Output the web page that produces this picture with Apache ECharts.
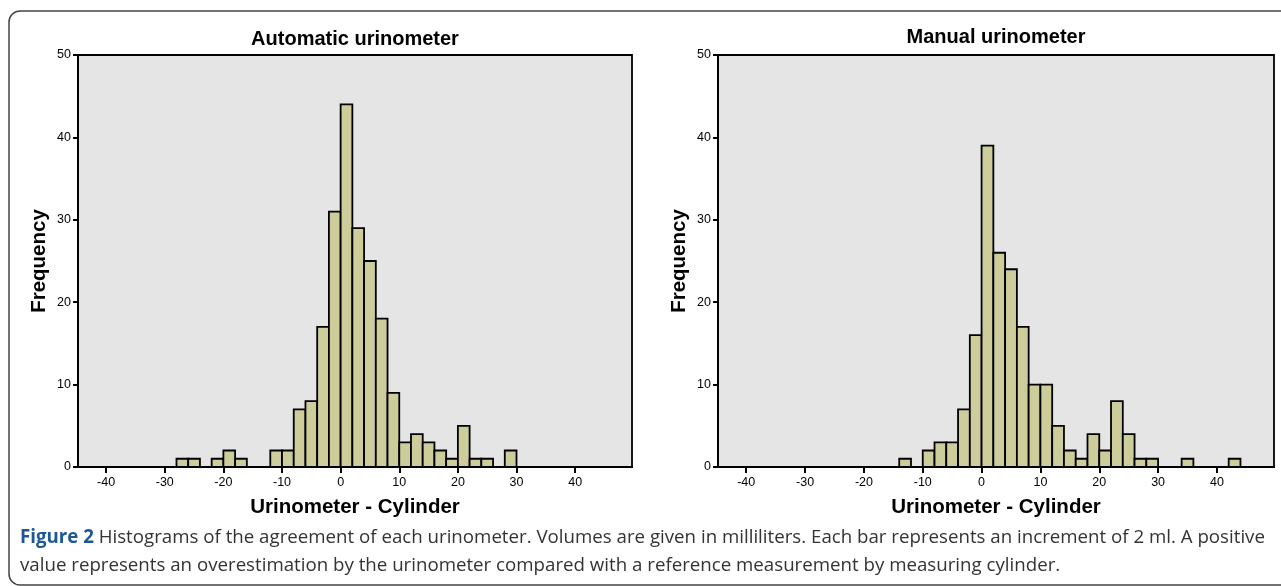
<!DOCTYPE html>
<html><head><meta charset="utf-8">
<script src="https://cdn.jsdelivr.net/npm/echarts@6/dist/echarts.min.js"></script>
<style>html,body{margin:0;padding:0;background:#fff;}#c{width:1281px;height:586px;}</style>
</head><body><div id="c"></div>
<script>
// Data
const BIN_WIDTH = 2;
const autoBinStarts = [-28,-26,-24,-22,-20,-18,-16,-14,-12,-10,-8,-6,-4,-2,0,2,4,6,8,10,12,14,16,18,20,22,24,26,28];
const autoCounts    = [1,1,0,1,2,1,0,0,2,2,7,8,17,31,44,29,25,18,9,3,4,3,2,1,5,1,1,0,2];
const manualBinStarts = [-14,-12,-10,-8,-6,-4,-2,0,2,4,6,8,10,12,14,16,18,20,22,24,26,28,30,32,34,36,38,40,42];
const manualCounts    = [1,0,2,3,3,7,16,39,26,24,17,10,10,5,2,1,4,2,8,4,1,1,0,0,1,0,0,0,1];
const xTicks = [-40,-30,-20,-10,0,10,20,30,40];
const chartTitles = ['Automatic urinometer','Manual urinometer'];
const xName = 'Urinometer - Cylinder';
const yName = 'Frequency';
const captionLead = 'Figure 2';
const captionLine1 = ' Histograms of the agreement of each urinometer. Volumes are given in milliliters. Each bar represents an increment of 2 ml. A positive';
const captionLine2 = 'value represents an overestimation by the urinometer compared with a reference measurement by measuring cylinder.';

const chart = echarts.init(document.getElementById('c'), null, {renderer:'canvas'});
const grids = [
  {left:78, top:55, width:554, height:412},
  {left:718, top:55, width:556, height:412}
];
function mkData(starts, counts){ return starts.map((s,i)=>[s, s+BIN_WIDTH, counts[i]]).filter(d=>d[2]>0); }
function renderBar(params, api){
  const p0 = api.coord([api.value(0), 0]);
  const p1 = api.coord([api.value(1), api.value(2)]);
  return {type:'rect', shape:{x:p0[0], y:p1[1], width:p1[0]-p0[0], height:p0[1]-p1[1]},
    style:{fill:'#cdcd9b', stroke:'#000', lineWidth:1.8}};
}
const fontA = 'Liberation Sans, Arial, sans-serif';
const xAxes = [0,1].map(i=>({
  type:'value', gridIndex:i, min:-44.8, max:49.7,
  splitLine:{show:false},
  axisLine:{show:true, onZero:false, lineStyle:{color:'#000', width:1.8}},
  axisTick:{show:true, customValues:xTicks, length:6, lineStyle:{color:'#000', width:2}},
  axisLabel:{customValues:xTicks, color:'#000', fontSize:12.5, fontFamily:fontA, margin:9},
  name:xName, nameLocation:'middle', nameGap:30,
  nameTextStyle:{color:'#000', fontSize:20.5, fontWeight:'bold', fontFamily:fontA}
}));
const yAxes = [0,1].map(i=>({
  type:'value', gridIndex:i, min:0, max:50, interval:10,
  splitLine:{show:false},
  axisLine:{show:true, onZero:false, lineStyle:{color:'#000', width:1.8}},
  axisTick:{show:true, length:5, lineStyle:{color:'#000', width:2}},
  axisLabel:{color:'#000', fontSize:12.5, fontFamily:fontA, margin:7},
  name:yName, nameLocation:'middle', nameGap:28, nameRotate:90,
  nameTextStyle:{color:'#000', fontSize:20.5, fontWeight:'bold', fontFamily:fontA}
}));
chart.setOption({
  animation:false,
  title:[
    {text:chartTitles[0], left:355, top:29, textAlign:'center', textStyle:{fontSize:20, fontWeight:'bold', color:'#000', fontFamily:fontA}, padding:0},
    {text:chartTitles[1], left:996, top:27, textAlign:'center', textStyle:{fontSize:20, fontWeight:'bold', color:'#000', fontFamily:fontA}, padding:0}
  ],
  grid: grids.map(g=>Object.assign({show:true, backgroundColor:'#e5e5e5', borderColor:'#000', borderWidth:1.8, containLabel:false}, g)),
  xAxis: xAxes,
  yAxis: yAxes,
  series:[
    {type:'custom', xAxisIndex:0, yAxisIndex:0, renderItem:renderBar, encode:{x:[0,1], y:2}, data:mkData(autoBinStarts, autoCounts)},
    {type:'custom', xAxisIndex:1, yAxisIndex:1, renderItem:renderBar, encode:{x:[0,1], y:2}, data:mkData(manualBinStarts, manualCounts)}
  ],
  graphic:[
    {type:'rect', shape:{x:9, y:11, width:1300, height:574, r:11}, style:{fill:null, stroke:'#444', lineWidth:1.5}, silent:true},
    {type:'text', left:20, top:528, style:{
      text:'{b|'+captionLead+'}{n|'+captionLine1+'}', rich:{
        b:{fontFamily:'Open Sans', fontWeight:'bold', fontSize:18.7, fill:'#1d5796'},
        n:{fontFamily:'Open Sans', fontSize:18.7, fill:'#333'}
      }}},
    {type:'text', left:20, top:556, style:{text:captionLine2, fontFamily:'Open Sans', fontSize:18.7, fill:'#333'}}
  ]
});
</script></body></html>
